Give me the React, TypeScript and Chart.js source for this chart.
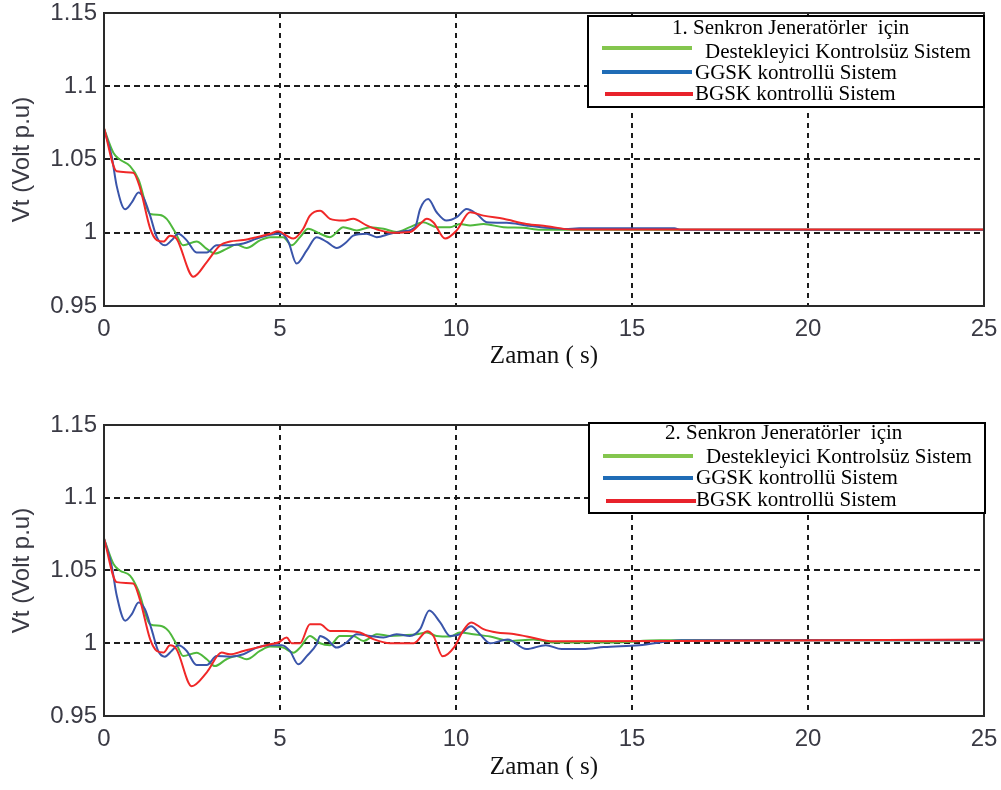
import React, { useEffect, useRef } from "react";
import { Chart, registerables } from "chart.js";

Chart.register(...registerables);

// ---------- axis / text data ----------
const xTicks = [0, 5, 10, 15, 20, 25];
const yTicks = [0.95, 1, 1.05, 1.1, 1.15];
const yTickLabels = ["0.95", "1", "1.05", "1.1", "1.15"];
const xTitle = "Zaman ( s)";
const yTitle = "Vt (Volt p.u)";
const seriesNames = ["Destekleyici Kontrolsüz Sistem", "GGSK kontrollü Sistem", "BGSK kontrollü Sistem"];
const legendTitle1 = "1. Senkron Jeneratörler  için";
const legendTitle2 = "2. Senkron Jeneratörler  için";

// ---------- panel 1 series ----------
const g1T = [0, 0.27, 0.45, 0.74, 0.98, 1.31, 1.59, 1.78, 2.02, 2.25, 2.63, 2.92, 3.15, 3.48, 3.77, 4.05, 4.43, 4.72, 5.09, 5.33, 5.57, 5.8, 6.14, 6.42, 6.8, 7.18, 7.56, 7.94, 8.31, 8.69, 9.07, 9.45, 9.83, 10.11, 10.4, 10.78, 11.35, 11.9, 12.4, 13.0, 25];
const g1V = [1.071, 1.0545, 1.05, 1.0455, 1.0365, 1.0128, 1.0122, 1.0095, 1.0005, 0.9914, 0.994, 0.989, 0.9858, 0.989, 0.9919, 0.9896, 0.9948, 0.997, 0.997, 0.9914, 0.997, 1.0027, 0.9993, 0.997, 1.0038, 1.0016, 1.0038, 1.0027, 1.0005, 1.0038, 1.0072, 1.0038, 1.0038, 1.006, 1.005, 1.006, 1.0038, 1.0034, 1.002, 1.002, 1.002];

const b1T = [0, 0.22, 0.36, 0.6, 0.79, 0.98, 1.12, 1.31, 1.5, 1.73, 1.92, 2.11, 2.35, 2.63, 2.92, 3.2, 3.58, 3.96, 4.34, 4.72, 5.05, 5.24, 5.47, 5.76, 6.04, 6.33, 6.61, 6.89, 7.08, 7.46, 7.75, 8.13, 8.5, 8.84, 8.98, 9.21, 9.45, 9.73, 10.02, 10.3, 10.59, 10.87, 11.44, 12.0, 12.67, 13.1, 13.5, 16.2, 16.4, 25];
const b1V = [1.071, 1.052, 1.032, 1.016, 1.0207, 1.0275, 1.024, 1.0117, 0.997, 0.9914, 0.9948, 0.9993, 0.9948, 0.9865, 0.9865, 0.9914, 0.9914, 0.9926, 0.996, 0.9986, 0.9993, 0.9937, 0.979, 0.988, 0.997, 0.9937, 0.9896, 0.9937, 0.998, 0.9993, 0.997, 0.9993, 1.001, 1.0038, 1.0162, 1.023, 1.014, 1.0083, 1.0106, 1.0162, 1.0128, 1.0072, 1.0068, 1.005, 1.0032, 1.0026, 1.003, 1.003, 1.002, 1.002];

const r1T = [0, 0.36, 0.83, 1.02, 1.31, 1.5, 1.69, 1.875, 2.06, 2.54, 2.92, 3.3, 3.58, 3.96, 4.34, 4.72, 4.95, 5.19, 5.38, 5.66, 5.85, 6.14, 6.42, 6.8, 7.08, 7.46, 7.84, 8.22, 8.69, 8.98, 9.17, 9.36, 9.69, 10.02, 10.4, 10.78, 11.35, 12.0, 12.58, 13.3, 25];
const r1V = [1.0714, 1.042, 1.041, 1.031, 1.003, 0.995, 0.994, 0.998, 0.996, 0.97, 0.98, 0.9915, 0.994, 0.995, 0.997, 0.9993, 1.001, 0.998, 0.996, 1.0027, 1.0117, 1.015, 1.0095, 1.0083, 1.0095, 1.005, 1.0016, 1.0, 1.0005, 1.006, 1.0095, 1.007, 0.996, 1.0016, 1.014, 1.0117, 1.0095, 1.006, 1.0045, 1.0022, 1.0022];

// ---------- panel 2 series ----------
const g2T = [0, 0.27, 0.45, 0.74, 0.98, 1.31, 1.59, 1.83, 2.06, 2.25, 2.63, 2.92, 3.15, 3.48, 3.77, 4.05, 4.43, 4.72, 5.09, 5.38, 5.57, 5.85, 6.14, 6.42, 6.7, 7.08, 7.37, 7.75, 8.13, 8.5, 8.88, 9.17, 9.45, 9.83, 10.11, 10.49, 10.97, 11.53, 12.2, 12.8, 14.4, 15.8, 25];
const g2V = [1.072, 1.0545, 1.05, 1.0465, 1.036, 1.013, 1.012, 1.0085, 0.9993, 0.9912, 0.9935, 0.989, 0.9843, 0.989, 0.9912, 0.989, 0.9947, 0.9977, 0.997, 0.9935, 0.997, 1.005, 1.0, 0.9986, 1.005, 1.005, 1.0016, 1.0062, 1.005, 1.0055, 1.0062, 1.0074, 1.005, 1.0046, 1.0074, 1.0062, 1.0046, 1.0016, 1.0026, 1.0005, 1.0005, 1.002, 1.002];

const b2T = [0, 0.22, 0.36, 0.6, 0.79, 0.98, 1.16, 1.35, 1.54, 1.73, 1.92, 2.11, 2.35, 2.63, 2.92, 3.2, 3.58, 3.96, 4.34, 4.72, 5.05, 5.28, 5.52, 5.76, 6.04, 6.14, 6.33, 6.61, 6.89, 7.18, 7.56, 7.94, 8.31, 8.69, 8.98, 9.24, 9.55, 9.83, 10.11, 10.43, 10.68, 10.97, 11.47, 12.0, 12.55, 13.0, 13.6, 14.2, 15.2, 16.4, 25];
const b2V = [1.072, 1.053, 1.033, 1.0155, 1.02, 1.028, 1.0235, 1.0097, 0.9947, 0.9908, 0.9947, 0.9986, 0.9947, 0.985, 0.985, 0.9912, 0.9908, 0.9924, 0.997, 0.9986, 0.9986, 0.9947, 0.9855, 0.9912, 0.9993, 1.005, 1.0028, 0.997, 1.0005, 1.0062, 1.005, 1.0039, 1.0062, 1.005, 1.0097, 1.0225, 1.0143, 1.005, 1.0062, 1.0117, 1.0062, 1.0, 1.0026, 0.996, 0.9987, 0.996, 0.996, 0.9974, 0.9987, 1.002, 1.002];

const r2T = [0, 0.36, 0.83, 1.02, 1.31, 1.5, 1.69, 1.875, 2.06, 2.49, 2.92, 3.34, 3.58, 3.96, 4.34, 4.72, 4.95, 5.19, 5.33, 5.57, 5.85, 6.14, 6.42, 6.89, 7.27, 7.65, 8.13, 8.8, 9.18, 9.36, 9.62, 9.95, 10.2, 10.43, 10.78, 11.16, 11.58, 12.01, 12.77, 16.4, 25];
const r2V = [1.072, 1.042, 1.041, 1.03, 1.0028, 0.9947, 0.9936, 0.9986, 0.9959, 0.9705, 0.98, 0.9936, 0.9924, 0.9947, 0.997, 0.9993, 1.0005, 1.004, 1.0, 1.0, 1.013, 1.013, 1.0085, 1.0085, 1.0074, 1.0028, 1.0, 1.0, 1.0083, 1.005, 0.991, 0.9974, 1.0085, 1.0143, 1.0097, 1.0074, 1.0065, 1.0047, 1.0013, 1.0015, 1.0025];

// ---------- styles ----------
const lineColors = ["#4fb83c", "#3a55aa", "#f02828"];
const legendColors = ["#84c64e", "#1f6cb6", "#e8222b"];

type LegendCfg = {
  box: [number, number, number, number];
  title: string;
  titleX: number;
  titleY: number;
  rows: { x1: number; x2: number; ly: number; tx: number; ty: number }[];
};

type PanelCfg = {
  height: number;
  top: number;
  bottom: number;
  titlePad: number;
  tickPad: number;
  legend: LegendCfg;
};

const pts = (t: number[], v: number[]) => t.map((x, i) => ({ x, y: v[i] }));

const framePlugin = {
  id: "frameLegend",
  afterDraw(chart: any, _args: any, opts: any) {
    const { ctx, chartArea } = chart;
    ctx.save();
    ctx.strokeStyle = "#2a2a2a";
    ctx.lineWidth = 2;
    ctx.setLineDash([]);
    ctx.strokeRect(chartArea.left, chartArea.top, chartArea.right - chartArea.left, chartArea.bottom - chartArea.top);
    const lg: LegendCfg = opts.legend;
    if (lg) {
      const [x1, y1, x2, y2] = lg.box;
      ctx.fillStyle = "#ffffff";
      ctx.fillRect(x1, y1, x2 - x1, y2 - y1);
      ctx.strokeStyle = "#000000";
      ctx.lineWidth = 2;
      ctx.strokeRect(x1, y1, x2 - x1, y2 - y1);
      ctx.fillStyle = "#000000";
      ctx.font = '21px "Liberation Serif", "Times New Roman", serif';
      ctx.textBaseline = "middle";
      ctx.textAlign = "left";
      ctx.fillText(lg.title, lg.titleX, lg.titleY);
      lg.rows.forEach((r, i) => {
        ctx.strokeStyle = legendColors[i];
        ctx.lineWidth = 4;
        ctx.beginPath();
        ctx.moveTo(r.x1, r.ly);
        ctx.lineTo(r.x2, r.ly);
        ctx.stroke();
        ctx.fillStyle = "#000000";
        ctx.fillText(seriesNames[i], r.tx, r.ty);
      });
    }
    ctx.restore();
  },
};

function Panel({ series, cfg }: { series: { t: number[]; v: number[] }[]; cfg: PanelCfg }) {
  const ref = useRef<HTMLCanvasElement | null>(null);
  useEffect(() => {
    if (!ref.current) return;
    const chart = new Chart(ref.current, {
      type: "line",
      data: {
        datasets: series.map((s, i) => ({
          label: seriesNames[i],
          data: pts(s.t, s.v),
          borderColor: lineColors[i],
          borderWidth: 2,
          pointRadius: 0,
          fill: false,
          cubicInterpolationMode: "monotone",
          order: 2 - i,
        })) as any,
      },
      options: {
        responsive: false,
        maintainAspectRatio: false,
        animation: false,
        events: [],
        layout: { padding: { top: cfg.top, right: 17, left: 0, bottom: 0 } },
        plugins: {
          legend: { display: false },
          tooltip: { enabled: false },
          frameLegend: { legend: cfg.legend },
        } as any,
        scales: {
          x: {
            type: "linear",
            min: 0,
            max: 25,
            afterBuildTicks: (s: any) => {
              s.ticks = xTicks.map((v) => ({ value: v }));
            },
            afterFit: (s: any) => {
              s.height = cfg.height - cfg.bottom;
              s.paddingLeft = 0;
              s.paddingRight = 0;
            },
            grid: {
              drawTicks: false,
              lineWidth: 2,
              color: (c: any) => (c.tick && (c.tick.value === 0 || c.tick.value === 25) ? "rgba(0,0,0,0)" : "#1c1c1c"),
            },
            border: { display: false, dash: [5, 5] },
            ticks: {
              autoSkip: false,
              maxRotation: 0,
              padding: cfg.tickPad,
              color: "#3a3a44",
              font: { family: '"Liberation Sans", Arial, sans-serif', size: 24 },
              callback: (v: any) => String(v),
            },
            title: {
              display: true,
              text: xTitle,
              color: "#111111",
              font: { family: '"Liberation Serif", "Times New Roman", serif', size: 25 },
              padding: { top: 0, bottom: cfg.titlePad },
            },
          },
          y: {
            type: "linear",
            min: 0.95,
            max: 1.15,
            afterBuildTicks: (s: any) => {
              s.ticks = yTicks.map((v) => ({ value: v }));
            },
            afterFit: (s: any) => {
              s.width = 104;
              s.paddingTop = 0;
              s.paddingBottom = 0;
            },
            grid: {
              drawTicks: false,
              lineWidth: 2,
              color: (c: any) =>
                c.tick && (Math.abs(c.tick.value - 0.95) < 1e-9 || Math.abs(c.tick.value - 1.15) < 1e-9)
                  ? "rgba(0,0,0,0)"
                  : "#1c1c1c",
            },
            border: { display: false, dash: [6, 4] },
            ticks: {
              padding: 7,
              color: "#3a3a44",
              font: { family: '"Liberation Sans", Arial, sans-serif', size: 24 },
              callback: (v: any) => {
                const i = yTicks.findIndex((t) => Math.abs(t - Number(v)) < 1e-9);
                return i >= 0 ? yTickLabels[i] : "";
              },
            },
            title: {
              display: true,
              text: yTitle,
              color: "#3a3a44",
              font: { family: '"Liberation Sans", Arial, sans-serif', size: 24 },
              padding: { top: 8, bottom: 0 },
            },
          },
        },
      } as any,
      plugins: [framePlugin],
    });
    return () => chart.destroy();
  }, []);
  return <canvas ref={ref} width={1001} height={cfg.height} style={{ display: "block" }} />;
}

const panel1: PanelCfg = {
  height: 395,
  top: 13,
  bottom: 306,
  titlePad: 24,
  tickPad: 9,
  legend: {
    box: [588, 16, 984, 107],
    title: legendTitle1,
    titleX: 672,
    titleY: 28,
    rows: [
      { x1: 602, x2: 692, ly: 48, tx: 705, ty: 52 },
      { x1: 602, x2: 692, ly: 72, tx: 695, ty: 73 },
      { x1: 605, x2: 693, ly: 94, tx: 695, ty: 94 },
    ],
  },
};

const panel2: PanelCfg = {
  height: 395,
  top: 30,
  bottom: 321,
  titlePad: 8,
  tickPad: 9,
  legend: {
    box: [589, 28, 985, 118],
    title: legendTitle2,
    titleX: 665,
    titleY: 38,
    rows: [
      { x1: 603, x2: 693, ly: 61, tx: 706, ty: 62 },
      { x1: 603, x2: 693, ly: 83, tx: 696, ty: 83 },
      { x1: 606, x2: 696, ly: 106, tx: 696, ty: 105 },
    ],
  },
};

export default function App() {
  return (
    <div style={{ position: "absolute", left: 0, top: 0, width: 1001, height: 790, background: "#ffffff" }}>
      <div style={{ position: "absolute", left: 0, top: 0 }}>
        <Panel
          cfg={panel1}
          series={[
            { t: g1T, v: g1V },
            { t: b1T, v: b1V },
            { t: r1T, v: r1V },
          ]}
        />
      </div>
      <div style={{ position: "absolute", left: 0, top: 395 }}>
        <Panel
          cfg={panel2}
          series={[
            { t: g2T, v: g2V },
            { t: b2T, v: b2V },
            { t: r2T, v: r2V },
          ]}
        />
      </div>
    </div>
  );
}
